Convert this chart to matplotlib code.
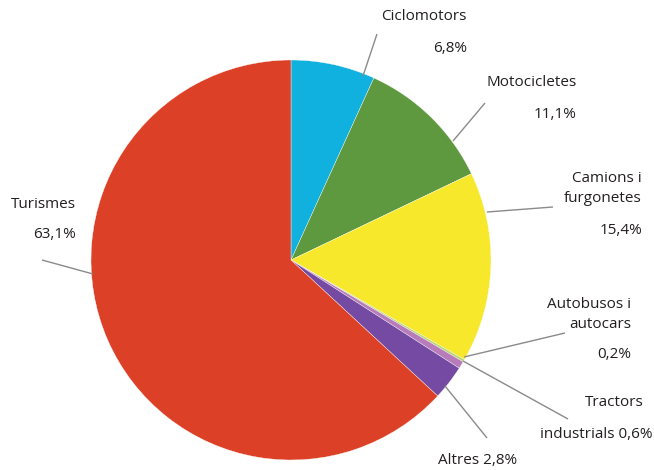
import matplotlib
matplotlib.use("Agg")
import matplotlib.pyplot as plt

categories = ["Ciclomotors", "Motocicletes", "Camions i furgonetes", "Autobusos i autocars",
              "Tractors industrials", "Altres", "Turismes"]
values = [6.8, 11.1, 15.4, 0.2, 0.6, 2.8, 63.1]
colors = ["#10B1DE", "#5E983F", "#F7E82B", "#B8D66A", "#B77CB9", "#744AA2", "#DC4127"]

# label text lines: (text, right x px, y px)
labels = [
    [("Ciclomotors", 467, 17), ("6,8%", 467, 49)],
    [("Motocicletes", 577, 82), ("11,1%", 577, 114)],
    [("Camions i", 642, 179), ("furgonetes", 642, 199), ("15,4%", 642, 230)],
    [("Autobusos i", 631, 304), ("autocars", 631, 324), ("0,2%", 631, 355)],
    [("Tractors", 644, 403), ("industrials 0,6%", 653, 434)],
    [("Altres 2,8%", 517, 460)],
    [("Turismes", 76, 204), ("63,1%", 76, 235)],
]
leaders = [
    ((363, 76), (377, 34)),
    ((453, 141), (485, 103)),
    ((487, 212), (553, 207)),
    ((464, 357), (565, 333)),
    ((463, 361), (568, 419)),
    ((445, 386), (487, 438)),
    ((93, 274), (42, 260)),
]

W, H = 654, 470
fig = plt.figure(figsize=(W / 100, H / 100), dpi=100)
ax = fig.add_axes([0, 0, 1, 1])
cx, cy, r = 291, H - 260, 200
ax.pie(values, colors=colors, startangle=90, counterclock=False, center=(cx, cy), radius=r,
       wedgeprops=dict(edgecolor="white", linewidth=0.25))
ax.set_xlim(0, W)
ax.set_ylim(0, H)
ax.set_aspect("equal")
ax.axis("off")

for (x1, y1), (x2, y2) in leaders:
    ax.plot([x1, x2], [H - y1, H - y2], color="#8A8A8A", lw=1.0, solid_capstyle="butt")

for group in labels:
    for text, x, y in group:
        ax.text(x, H - y, text, ha="right", va="center", fontsize=11,
                family="Open Sans", color="#231F20")

fig.savefig("out.png", dpi=100)
